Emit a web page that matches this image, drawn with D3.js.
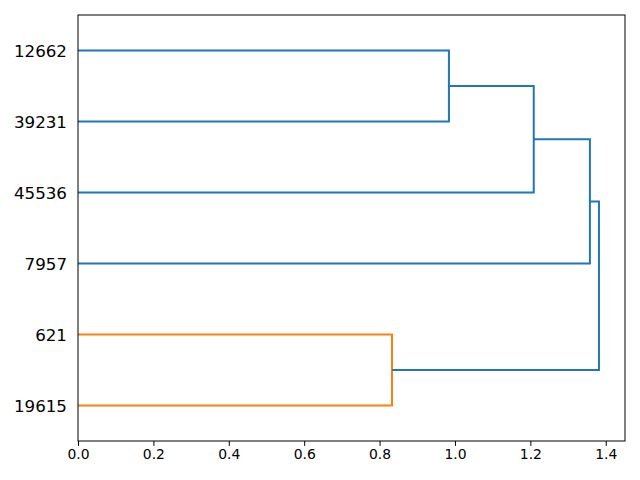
<!DOCTYPE html>
<html>
<head>
<meta charset="utf-8">
<script src="https://cdn.jsdelivr.net/npm/d3@7"></script>
<style>
  body { margin: 0; background: #fff; }
  svg text { font-family: "DejaVu Sans", sans-serif; fill: #000; }
</style>
</head>
<body>
<div id="root"></div>
<script>
"use strict";

// leaves, bottom to top (as scipy lays them out)
const leafLabels = ["19615", "621", "7957", "45536", "39231", "12662"];

// linkage steps: left child, right child, merge height, branch colour
const mergeLeft = ["12662", "m1", "m2", "621", "m3"];
const mergeRight = ["39231", "45536", "7957", "19615", "m4"];
const mergeHeight = [0.984, 1.209, 1.358, 0.833, 1.382];
const mergeColor = ["C0", "C0", "C0", "C1", "C0"];

const xTicks = [0, 0.2, 0.4, 0.6, 0.8, 1.0, 1.2, 1.4];

const width = 640;
const height = 480;
const margin = { top: 15, right: 15, bottom: 39, left: 78 };
const palette = { C0: "#1f77b4", C1: "#ff7f0e" };

const x = d3
  .scaleLinear()
  .domain([0, d3.max(mergeHeight) * 1.05])
  .range([margin.left, width - margin.right]);

const y = d3
  .scaleLinear()
  .domain([0, leafLabels.length * 10])
  .range([height - margin.bottom, margin.top]);

// node position: y in leaf units, x = height
const nodes = {};
leafLabels.forEach((d, i) => {
  nodes[d] = { pos: 5 + i * 10, h: 0 };
});

const links = mergeLeft.map((a, i) => {
  const b = mergeRight[i];
  const h = mergeHeight[i];
  nodes["m" + (i + 1)] = { pos: (nodes[a].pos + nodes[b].pos) / 2, h: h };
  return { a: nodes[a], b: nodes[b], h: h, color: palette[mergeColor[i]] };
});

const svg = d3
  .select("#root")
  .append("svg")
  .attr("width", width)
  .attr("height", height);

svg
  .selectAll("path.link")
  .data(links)
  .enter()
  .append("path")
  .attr("class", "link")
  .attr("fill", "none")
  .attr("stroke", (d) => d.color)
  .attr("stroke-width", 2)
  .attr("d", (d) =>
    `M${x(d.a.h)},${y(d.a.pos)}H${x(d.h)}V${y(d.b.pos)}H${x(d.b.h)}`
  );

const xAxis = d3
  .axisBottom(x)
  .tickValues(xTicks)
  .tickFormat(d3.format(".1f"))
  .tickSize(4.9)
  .tickPadding(3.5);

const gx = svg
  .append("g")
  .attr("transform", `translate(0, ${height - margin.bottom})`)
  .call(xAxis);
gx.select(".domain").remove();
gx.selectAll("line").attr("stroke", "#000").attr("stroke-width", 1);
gx.selectAll("text").style("font-size", "13.9px");

// leaf labels on the left
svg
  .selectAll("text.leaf")
  .data(leafLabels)
  .enter()
  .append("text")
  .attr("class", "leaf")
  .attr("x", margin.left - 11)
  .attr("y", (d, i) => y(5 + i * 10))
  .attr("dy", "0.36em")
  .attr("text-anchor", "end")
  .style("font-size", "16.7px")
  .text((d) => d);

// frame
svg
  .append("rect")
  .attr("x", margin.left)
  .attr("y", margin.top)
  .attr("width", width - margin.left - margin.right)
  .attr("height", height - margin.top - margin.bottom)
  .attr("fill", "none")
  .attr("stroke", "#000")
  .attr("stroke-width", 1);
</script>
</body>
</html>
